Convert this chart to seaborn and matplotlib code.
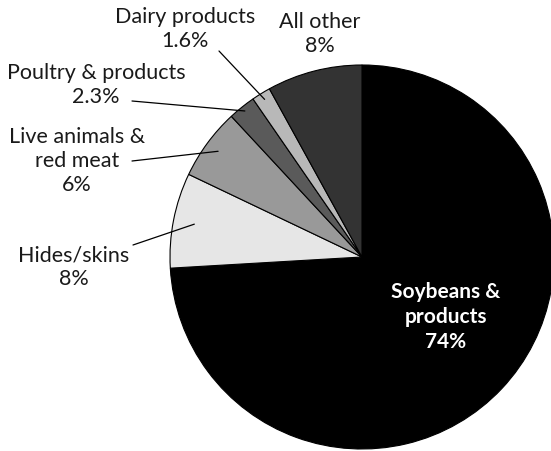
import matplotlib
matplotlib.use("Agg")
import matplotlib.pyplot as plt
import seaborn as sns
import numpy as np

categories = ["Soybeans &\nproducts", "Hides/skins", "Live animals &\nred meat",
              "Poultry & products", "Dairy products", "All other"]
pct_labels = ["74%", "8%", "6%", "2.3%", "1.6%", "8%"]
values = [74, 8, 6, 2.3, 1.6, 8]
colors = ["#000000", "#e6e6e6", "#999999", "#5a5a5a", "#b8b8b8", "#333333"]

sns.set_theme(style="white")
plt.rcParams["font.family"] = ["Lato", "DejaVu Sans"]

W, H = 551, 452
fig = plt.figure(figsize=(W / 100, H / 100), dpi=100)
cx, cy, R = 362, 258, 192
ax = fig.add_axes([(cx - R) / W, (H - cy - R) / H, 2 * R / W, 2 * R / H])

wedges, _ = ax.pie(values, colors=colors, startangle=90, counterclock=False,
                   wedgeprops=dict(edgecolor="black", linewidth=0.8))
ax.set_xlim(-1, 1)
ax.set_ylim(-1, 1)
ax.axis("off")

def px2data(px, py):
    return ((px - cx) / R, (cy - py) / R)

text_color = "#1a1a1a"
fs = 15.5
# label text centers (pixel positions, top-left origin) and leader starts
text_pos = {1: (74, 267), 2: (77, 161), 3: (96, 85), 4: (185, 29), 5: (320, 34)}
line_start = {1: (133, 246), 2: (132, 162), 3: (132, 102), 4: (219, 52)}
line_r = {1: 0.89, 2: 0.93, 3: 0.975, 4: 0.965}

for i, w in enumerate(wedges):
    label = categories[i] + "\n" + pct_labels[i]
    if i == 0:
        x, y = px2data(446, 317)
        ax.text(x, y, label, ha="center", va="center", color="white",
                fontsize=15, fontweight="bold", linespacing=1.3)
        continue
    tx, ty = px2data(*text_pos[i])
    ax.text(tx, ty, label, ha="center", va="center", color=text_color,
            fontsize=fs, linespacing=1.22, clip_on=False)
    if i in line_start:
        ang = np.deg2rad((w.theta1 + w.theta2) / 2)
        r = line_r[i]
        ex, ey = r * np.cos(ang), r * np.sin(ang)
        sx, sy = px2data(*line_start[i])
        ax.plot([sx, ex], [sy, ey], color="black", linewidth=0.9, clip_on=False)

fig.savefig("out.png", dpi=100, facecolor="white")
